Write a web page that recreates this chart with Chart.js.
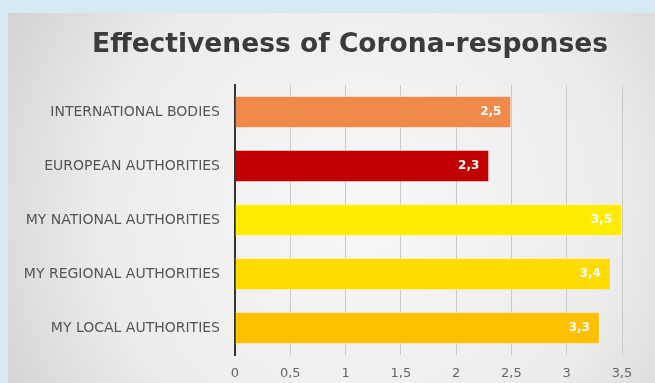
<!DOCTYPE html>
<html>
<head>
<meta charset="utf-8">
<script src="https://cdn.jsdelivr.net/npm/chart.js@4"></script>
<style>
  html, body { margin: 0; padding: 0; background: #d6eaf4; }
  #wrap { width: 655px; height: 383px; }
</style>
</head>
<body>
<div id="wrap"><canvas id="chart" width="655" height="383"></canvas></div>
<script>
// data
const categories = ['INTERNATIONAL BODIES', 'EUROPEAN AUTHORITIES', 'MY NATIONAL AUTHORITIES', 'MY REGIONAL AUTHORITIES', 'MY LOCAL AUTHORITIES'];
const values = [2.5, 2.3, 3.5, 3.4, 3.3];
const barColors = ['#f08a4b', '#c00000', '#ffec00', '#ffdb00', '#ffc000'];
const titleText = 'Effectiveness of Corona-responses';

const fmt = v => String(v).replace('.', ',');

// background: blue frame + grey radial panel
const panelBg = {
  id: 'panelBg',
  beforeDraw(chart) {
    const ctx = chart.ctx;
    ctx.save();
    ctx.fillStyle = '#d6eaf4';
    ctx.fillRect(0, 0, chart.width, chart.height);
    const g = ctx.createRadialGradient(360, 210, 20, 360, 210, 420);
    g.addColorStop(0, '#f7f7f7');
    g.addColorStop(0.6, '#ececec');
    g.addColorStop(1, '#d0d0d0');
    ctx.fillStyle = g;
    ctx.fillRect(8, 13, chart.width - 8, chart.height - 13);
    ctx.restore();
  }
};

// title drawn on top of the panel
const titleDraw = {
  id: 'titleDraw',
  afterDraw(chart) {
    const ctx = chart.ctx;
    ctx.save();
    ctx.font = 'bold 26.5px "DejaVu Sans"';
    ctx.fillStyle = '#3b3b3b';
    ctx.textAlign = 'center';
    ctx.textBaseline = 'alphabetic';
    ctx.fillText(titleText, 350, 52);
    ctx.restore();
  }
};

// value labels inside the bar ends
const valueLabels = {
  id: 'valueLabels',
  afterDatasetsDraw(chart) {
    const ctx = chart.ctx;
    const meta = chart.getDatasetMeta(0);
    ctx.save();
    ctx.font = 'bold 12px "DejaVu Sans"';
    ctx.fillStyle = '#ffffff';
    ctx.textAlign = 'right';
    ctx.textBaseline = 'middle';
    meta.data.forEach((bar, i) => {
      ctx.fillText(fmt(values[i]), bar.x - 10, bar.y);
    });
    ctx.restore();
  }
};

new Chart(document.getElementById('chart'), {
  type: 'bar',
  data: {
    labels: categories,
    datasets: [{
      data: values,
      backgroundColor: barColors,
      borderColor: 'rgba(255,255,255,0.5)',
      borderWidth: 1,
      borderSkipped: 'left',
      categoryPercentage: 0.6,
      barPercentage: 1
    }]
  },
  options: {
    indexAxis: 'y',
    responsive: false,
    animation: false,
    layout: { padding: { top: 85, right: 33, bottom: 0, left: 0 } },
    plugins: {
      legend: { display: false },
      tooltip: { enabled: false },
      title: { display: false }
    },
    scales: {
      x: {
        min: 0,
        max: 3.5,
        afterFit(scale) { scale.height = 28; },
        grid: { color: '#c9c9c9', lineWidth: 1, drawTicks: false },
        border: { display: false },
        ticks: {
          stepSize: 0.5,
          padding: 11,
          color: '#666666',
          font: { family: 'DejaVu Sans', size: 13 },
          callback: v => fmt(v)
        }
      },
      y: {
        afterFit(scale) { scale.width = 235; },
        grid: { display: false, drawTicks: false },
        border: { display: true, color: '#333333', width: 2 },
        ticks: {
          padding: 15,
          color: '#555555',
          font: { family: 'DejaVu Sans', size: 14 }
        }
      }
    }
  },
  plugins: [panelBg, valueLabels, titleDraw]
});
</script>
</body>
</html>
